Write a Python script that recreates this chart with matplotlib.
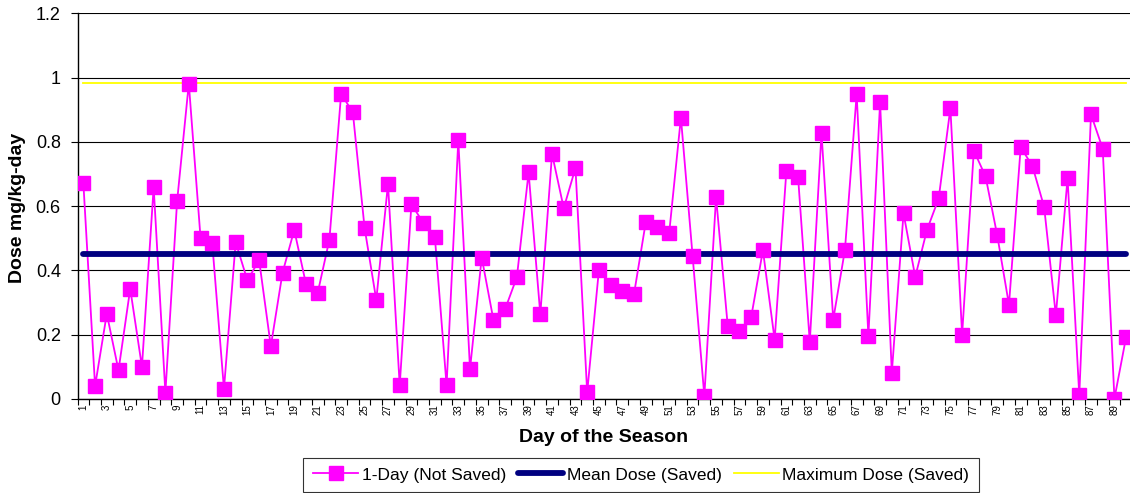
import numpy as np
import matplotlib.pyplot as plt
from matplotlib.lines import Line2D

plt.rcParams['font.family'] = ['Liberation Sans', 'DejaVu Sans']

# dados -----------------------------------------------------------------------
days = np.arange(1, 91)
dose_1day = [0.672, 0.040, 0.265, 0.089, 0.343, 0.100, 0.659, 0.019, 0.615, 0.982,
             0.502, 0.485, 0.031, 0.488, 0.369, 0.432, 0.164, 0.393, 0.526, 0.358,
             0.330, 0.496, 0.950, 0.892, 0.533, 0.308, 0.669, 0.042, 0.606, 0.549,
             0.504, 0.042, 0.806, 0.093, 0.440, 0.246, 0.280, 0.379, 0.705, 0.263,
             0.763, 0.594, 0.719, 0.020, 0.401, 0.356, 0.335, 0.327, 0.550, 0.536,
             0.517, 0.876, 0.444, 0.009, 0.628, 0.226, 0.210, 0.255, 0.463, 0.184,
             0.709, 0.691, 0.177, 0.828, 0.247, 0.464, 0.949, 0.196, 0.924, 0.081,
             0.578, 0.380, 0.526, 0.624, 0.905, 0.200, 0.773, 0.693, 0.509, 0.293,
             0.784, 0.725, 0.598, 0.260, 0.687, 0.011, 0.886, 0.779, 0.001, 0.193]
mean_dose = 0.452
max_dose = 0.985
y_ticks = [0, 0.2, 0.4, 0.6, 0.8, 1, 1.2]
y_labels = ['0', '0.2', '0.4', '0.6', '0.8', '1', '1.2']

fig = plt.figure(figsize=(11.3, 4.93), dpi=100)
ax = fig.add_axes([77.5/1130, 1 - 398.9/493, 1054.5/1130, (398.9 - 13.5)/493])

# grade horizontal
for yv in y_ticks:
    ax.axhline(yv, color='black', lw=0.8, zorder=1)

ax.plot(days, dose_1day, color='#FF00FF', lw=1.3, zorder=2)
ax.plot(days, [mean_dose]*len(days), color='#000080', lw=4.2, solid_capstyle='round', zorder=3)
ax.plot(days, [max_dose]*len(days), color='#FFFF00', lw=1.3, zorder=3)
ax.plot(days, dose_1day, ls='none', marker='s', ms=9.5, color='#FF00FF', zorder=4)

ax.set_xlim(0.5, 90.5)
ax.set_ylim(0, 1.2)
ax.set_yticks(y_ticks)
ax.set_yticklabels(y_labels, fontsize=13)
ax.tick_params(axis='y', direction='out', length=5, width=0.8, pad=7)

# rotulos do eixo x: so os impares, marcas entre as categorias
ax.set_xticks(days[::2])
ax.set_xticklabels([str(d) for d in days[::2]], rotation=90, fontsize=7)
ax.set_xticks(np.arange(0.5, 91, 1), minor=True)
ax.tick_params(axis='x', which='major', length=0, pad=4)
ax.tick_params(axis='x', which='minor', direction='out', length=4, width=0.8)

for s in ['top', 'right']:
    ax.spines[s].set_visible(False)
ax.spines['left'].set_linewidth(1)
ax.spines['bottom'].set_linewidth(1)

fig.text(18/1130, 1 - 208/493, 'Dose mg/kg-day', rotation=90, fontsize=14,
         fontweight='bold', ha='center', va='center')
fig.text(604/1130, 1 - 437/493, 'Day of the Season', fontsize=14,
         fontweight='bold', ha='center', va='center')

handles = [Line2D([], [], color='#FF00FF', lw=1.3, marker='s', ms=9.5),
           Line2D([], [], color='#000080', lw=4.2, solid_capstyle='round'),
           Line2D([], [], color='#FFFF00', lw=1.3)]
names = ['1-Day (Not Saved)', 'Mean Dose (Saved)', 'Maximum Dose (Saved)']
leg = fig.legend(handles, names, loc='center', bbox_to_anchor=(641/1130, 1 - 475/493),
                 ncol=3, fontsize=12.5, frameon=True, fancybox=False, edgecolor='black',
                 handlelength=2.6, handletextpad=0.2, columnspacing=0.7,
                 borderpad=0.55, borderaxespad=0)
leg.get_frame().set_linewidth(0.8)

fig.savefig('out.png', dpi=100)
